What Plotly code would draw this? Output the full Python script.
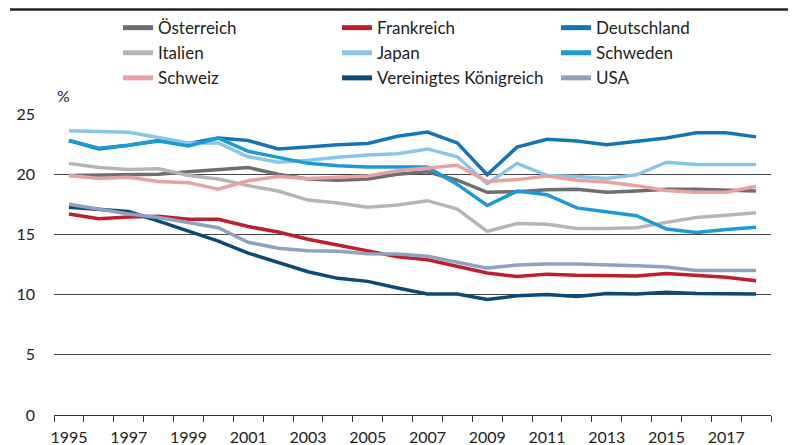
import plotly.graph_objects as go

years = list(range(1995, 2019))

oesterreich = [19.9, 19.95, 20.0, 20.0, 20.2, 20.4, 20.55, 20.0, 19.6, 19.5, 19.6, 20.0,
               20.2, 19.5, 18.5, 18.55, 18.7, 18.75, 18.5, 18.6, 18.75, 18.75, 18.7, 18.6]
frankreich = [16.7, 16.3, 16.45, 16.5, 16.25, 16.25, 15.65, 15.2, 14.6, 14.1, 13.65, 13.15,
              12.9, 12.35, 11.8, 11.5, 11.7, 11.6, 11.6, 11.55, 11.75, 11.6, 11.45, 11.15]
deutschland = [22.8, 22.1, 22.4, 22.8, 22.55, 23.0, 22.8, 22.1, 22.25, 22.45, 22.55, 23.15,
               23.5, 22.6, 19.95, 22.25, 22.9, 22.75, 22.45, 22.75, 23.0, 23.45, 23.45, 23.1]
italien = [20.9, 20.55, 20.4, 20.45, 19.9, 19.6, 19.05, 18.6, 17.85, 17.6, 17.25, 17.45,
           17.8, 17.1, 15.25, 15.9, 15.85, 15.5, 15.5, 15.55, 16.0, 16.4, 16.6, 16.8]
japan = [23.6, 23.55, 23.48, 23.05, 22.6, 22.6, 21.45, 21.0, 21.15, 21.4, 21.6, 21.7,
         22.1, 21.45, 19.2, 20.9, 19.9, 19.8, 19.65, 19.95, 21.0, 20.8, 20.8, 20.8]
schweden = [22.8, 22.15, 22.4, 22.75, 22.35, 23.0, 21.9, 21.4, 20.9, 20.7, 20.6, 20.6,
            20.6, 19.15, 17.4, 18.6, 18.3, 17.2, 16.9, 16.55, 15.45, 15.15, 15.4, 15.6]
schweiz = [19.9, 19.65, 19.75, 19.4, 19.3, 18.75, 19.45, 19.8, 19.65, 19.72, 19.86, 20.28,
           20.5, 20.75, 19.4, 19.55, 19.85, 19.5, 19.35, 19.05, 18.65, 18.5, 18.5, 19.0]
vk = [17.25, 17.05, 16.9, 16.1, 15.25, 14.45, 13.45, 12.7, 11.9, 11.35, 11.1, 10.55,
      10.05, 10.05, 9.6, 9.9, 10.0, 9.85, 10.1, 10.05, 10.2, 10.1, 10.1, 10.05]
usa = [17.5, 17.1, 16.7, 16.4, 15.95, 15.55, 14.35, 13.85, 13.65, 13.6, 13.4, 13.38,
       13.18, 12.7, 12.2, 12.45, 12.55, 12.55, 12.5, 12.4, 12.3, 12.0, 12.0, 12.0]

series = [
    ("Österreich", oesterreich, "#6d6e71"),
    ("Frankreich", frankreich, "#be1e2d"),
    ("Deutschland", deutschland, "#1474b8"),
    ("Italien", italien, "#b4b6b6"),
    ("Japan", japan, "#8ac4e6"),
    ("Schweden", schweden, "#1c9ad6"),
    ("Schweiz", schweiz, "#e8a2a2"),
    ("Vereinigtes Königreich", vk, "#0b4a76"),
    ("USA", usa, "#8ea1c1"),
]

tick_years = list(range(1995, 2018, 2))
y_ticks = [0, 5, 10, 15, 20, 25]

font = "Lato, 'Source Sans Pro', 'Open Sans', sans-serif"

fig = go.Figure()
for name, vals, col in series:
    fig.add_trace(go.Scatter(x=years, y=vals, name=name, mode="lines",
                             line=dict(color=col, width=3.5)))

# the page body adds an 8px offset; positions below are given in screen pixels
OFF = 8
W, H = 796 - OFF, 445 - OFF
left_s, right_s, top_s, bottom_s = 54, 771, 114, 415.3   # plot area on screen
ml = left_s - OFF
mr = W - (right_s - OFF)
mt = top_s - OFF
mb = H - (bottom_s - OFF)
pw = W - ml - mr
ph = H - mt - mb

def px_x(p):
    return (p - OFF - ml) / pw

def px_y(p):
    return (H - mb - (p - OFF)) / ph

fig.update_layout(
    width=W, height=H,
    margin=dict(l=ml, r=mr, t=mt, b=mb, pad=0, autoexpand=False),
    paper_bgcolor="white", plot_bgcolor="white",
    font=dict(family=font, size=16, color="#222"),
    showlegend=True,
    legend=dict(orientation="h", x=px_x(118), y=px_y(10), xanchor="left", yanchor="top",
                entrywidth=174, entrywidthmode="pixels", traceorder="normal",
                font=dict(size=17, color="#222"), bgcolor="rgba(0,0,0,0)",
                itemsizing="constant"),
    xaxis=dict(range=[1994.5, 2018.5], tickmode="array", tickvals=tick_years,
               ticks="", showgrid=False, zeroline=False,
               showline=True, linecolor="#333", linewidth=1,
               ticklabelstandoff=8,
               minor=dict(tick0=1994.5, dtick=1, ticks="outside", ticklen=6,
                          tickcolor="#333", tickwidth=1, showgrid=False),
               tickfont=dict(size=16, color="#222")),
    yaxis=dict(range=[0, 25], tickmode="array", tickvals=y_ticks, ticks="",
               showgrid=True, gridcolor="#444", gridwidth=1, zeroline=False,
               showline=False, ticklabelstandoff=18,
               tickfont=dict(size=16, color="#222")),
    annotations=[dict(text="%", xref="paper", yref="paper", x=px_x(55), y=px_y(95),
                      xanchor="left", yanchor="middle", showarrow=False,
                      font=dict(size=16, color="#222"))],
    shapes=[dict(type="line", xref="paper", yref="paper", x0=px_x(10), x1=px_x(795),
                 y0=px_y(9.3), y1=px_y(9.3), line=dict(color="#222", width=2.5))],
)

fig.write_html("out.html")
